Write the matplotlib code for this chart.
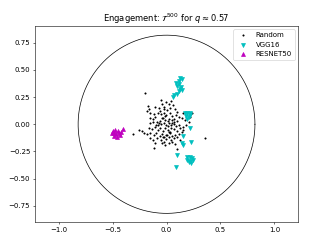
import numpy as np
import matplotlib
matplotlib.use("Agg")
import matplotlib.pyplot as plt

# Random points (x, y)
random_x = [-0.198, -0.052, -0.003, 0.04, -0.043, 0.019, 0.059, -0.019,
            -0.173, -0.167, -0.182, -0.105, -0.074, -0.028, 0.003, 0.034, 0.08, 0.10, 0.157, 0.235,
            -0.151, -0.12, -0.083, -0.052, -0.028, -0.003, 0.028, 0.049, 0.09, 0.12, 0.219, 0.142,
            -0.157, -0.127, -0.105, -0.065, -0.043, -0.012, 0.019, 0.049, 0.071, 0.10, 0.173, 0.204,
            -0.151, -0.127, -0.096, -0.074, -0.049, -0.028, -0.003, 0.019, 0.04, 0.065, 0.09, 0.12, 0.151, 0.182,
            -0.167, -0.136, -0.105, -0.083, -0.059, -0.034, -0.012, 0.009, 0.034, 0.065, 0.096, 0.127, 0.157,
            -0.26, -0.228, -0.315, -0.207,
            -0.182, -0.151, -0.12, -0.096, -0.065, -0.043, -0.022, -0.003, 0.028, 0.049, 0.08, 0.111, 0.142,
            -0.157, -0.127, -0.09, -0.052, -0.028, -0.003, 0.019, 0.04, 0.065, 0.096, 0.127,
            -0.105, -0.043, -0.012, 0.019, 0.049, 0.08,
            -0.114, 0.10, 0.358,
            -0.09, -0.036, 0.012, 0.055, -0.015, 0.025, -0.06, 0.005, 0.07, -0.03, 0.045, -0.08, 0.015]
random_y = [0.286, 0.224, 0.209, 0.218, 0.184, 0.187, 0.178, 0.163,
            0.169, 0.138, 0.126, 0.163, 0.147, 0.138, 0.132, 0.147, 0.138, 0.117, 0.108, 0.101,
            0.101, 0.095, 0.108, 0.092, 0.108, 0.086, 0.101, 0.077, 0.086, 0.071, 0.065, 0.055,
            0.055, 0.046, 0.065, 0.034, 0.055, 0.04, 0.046, 0.04, 0.025, 0.034, 0.04, 0.025,
            0.009, 0.025, -0.006, 0.009, 0.0, 0.015, -0.006, 0.009, -0.006, 0.003, -0.015, -0.006, -0.022, -0.006,
            -0.037, -0.046, -0.028, -0.052, -0.037, -0.058, -0.037, -0.052, -0.068, -0.046, -0.058, -0.037, -0.052,
            -0.052, -0.058, -0.089, -0.077,
            -0.089, -0.077, -0.098, -0.083, -0.108, -0.089, -0.114, -0.098, -0.083, -0.108, -0.098, -0.089, -0.068,
            -0.129, -0.144, -0.129, -0.144, -0.16, -0.138, -0.12, -0.144, -0.129, -0.114, -0.144,
            -0.175, -0.175, -0.19, -0.169, -0.16, -0.181,
            -0.221, -0.23, -0.129,
            0.02, 0.06, -0.02, 0.015, 0.075, -0.07, 0.12, -0.1, 0.05, -0.12, -0.03, -0.01, 0.03]

# VGG16 points
vgg_x = [0.127, 0.111, 0.142, 0.09, 0.12, 0.10, 0.136, 0.127, 0.114, 0.142,
         0.071, 0.096, 0.059,
         0.173, 0.194, 0.213, 0.182, 0.204, 0.194, 0.219,
         0.213, 0.157, 0.228, 0.151, 0.142, 0.10,
         0.188, 0.213, 0.235, 0.194, 0.219, 0.244, 0.225, 0.204,
         0.09]
vgg_y = [0.424, 0.402, 0.415, 0.384, 0.372, 0.353, 0.341, 0.323, 0.31, 0.316,
         0.27, 0.28, 0.249,
         0.108, 0.101, 0.086, 0.077, 0.065, 0.046, 0.108,
         -0.037, -0.108, -0.16, -0.19, -0.175, -0.283,
         -0.298, -0.304, -0.313, -0.329, -0.335, -0.329, -0.359, -0.344,
         -0.396]

# RESNET50 points
resnet_x = [-0.497, -0.475, -0.454, -0.491, -0.466, -0.444, -0.485, -0.46, -0.435, -0.506, -0.404, -0.423]
resnet_y = [-0.058, -0.052, -0.061, -0.083, -0.089, -0.083, -0.108, -0.114, -0.098, -0.077, -0.046, -0.068]

circle_radius = 0.82

fig = plt.figure(figsize=(6.48, 4.94), dpi=50)
ax = fig.add_axes([0.108, 0.101, 0.812, 0.794])

t = np.linspace(0, 2 * np.pi, 400)
ax.plot(circle_radius * np.cos(t), circle_radius * np.sin(t), color="black", lw=1)

ax.scatter(random_x, random_y, marker=".", color="black", s=14, label="Random", zorder=3)
ax.scatter(vgg_x, vgg_y, marker="v", color="c", s=32, label="VGG16", zorder=3)
ax.scatter(resnet_x, resnet_y, marker="^", color="m", s=32, label="RESNET50", zorder=3)

ax.set_xlim(-1.22, 1.22)
ax.set_ylim(-0.9, 0.905)
ax.set_xticks([-1.0, -0.5, 0.0, 0.5, 1.0])
ax.set_yticks([-0.75, -0.5, -0.25, 0.0, 0.25, 0.5, 0.75])
ax.set_title(r"Engagement: $\mathcal{T}^{500}$ for $q \approx 0.57$")
ax.legend(loc="upper right")

fig.savefig("out.png", dpi=50)
